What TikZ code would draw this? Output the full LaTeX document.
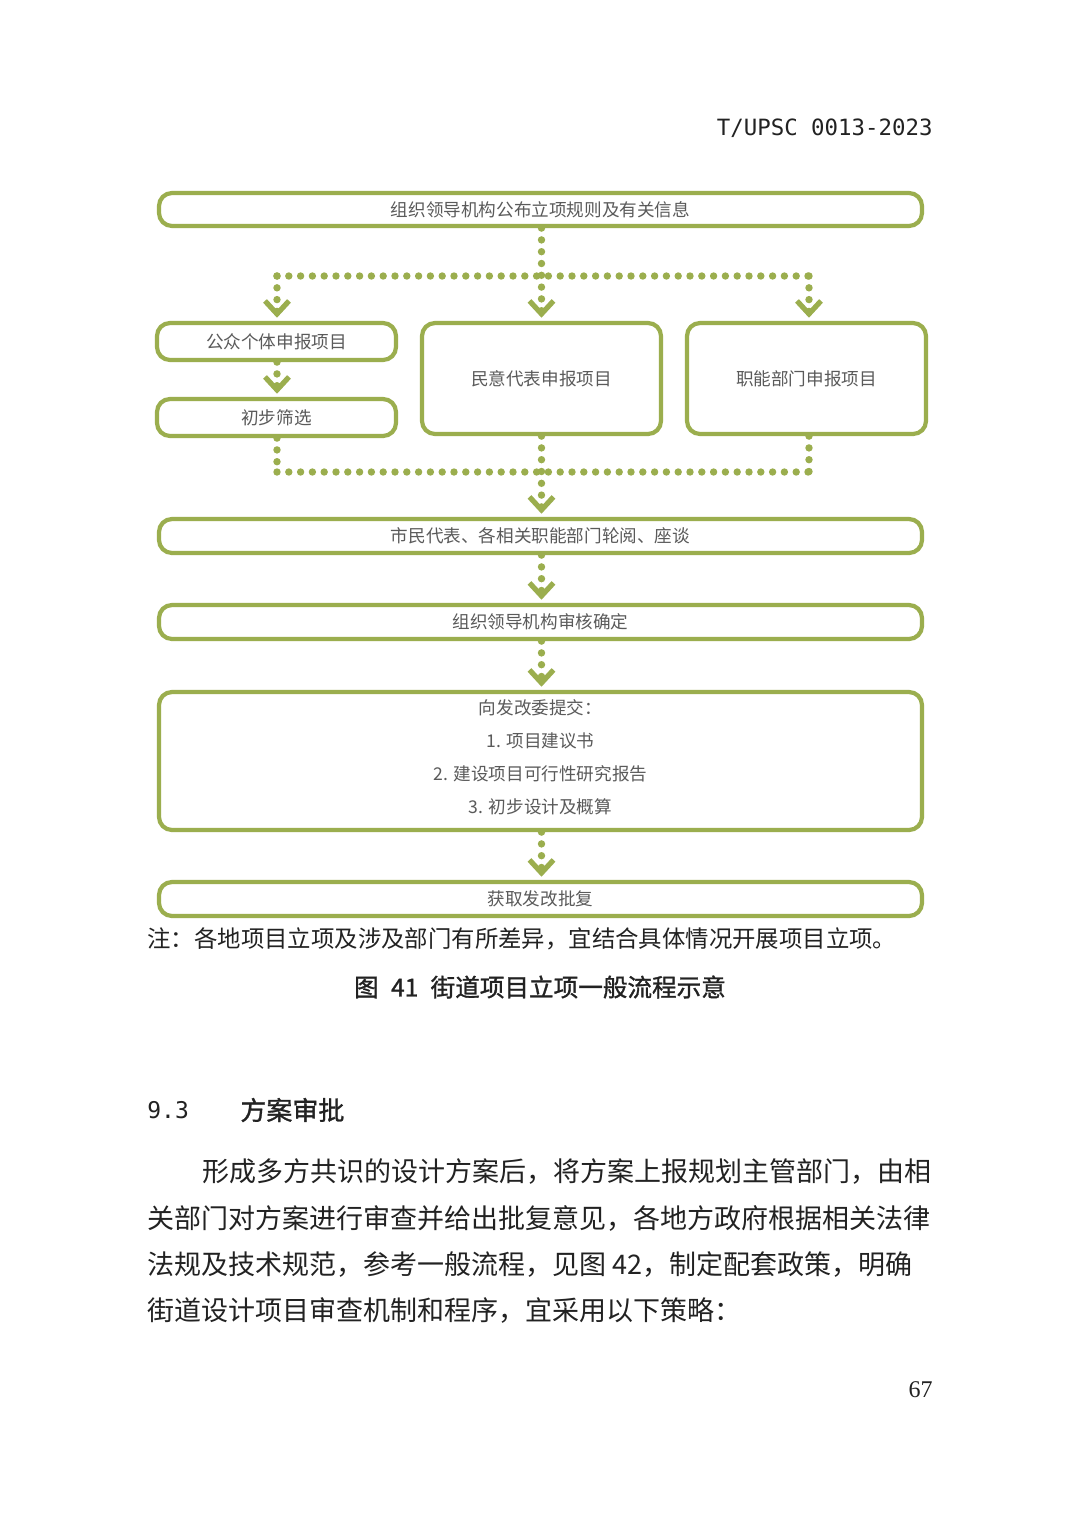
\documentclass[tikz,border=0pt]{standalone}
\usepackage{fontspec}
\setmainfont{Noto Sans CJK SC}
\newfontfamily\heifnt[FakeBold=1.2]{Noto Sans CJK SC}
\newfontfamily\monofnt{DejaVu Sans Mono}
\newfontfamily\serfnt{Liberation Serif}
\definecolor{leaf}{HTML}{9BAE4E}
\definecolor{boxtext}{HTML}{5A5A5A}
\definecolor{ink}{HTML}{222222}
\tikzset{
  box/.style={draw=leaf, line width=2.1pt, rounded corners=6.5pt, fill=white,
    text=boxtext, font=\fontsize{8.8}{10}\selectfont, inner sep=0pt, align=center},
  dots/.style={draw=leaf, line width=3.7pt, line cap=round, dash pattern=on 0pt off 5.9pt},
  chevline/.style={draw=leaf, line width=2.6pt, line cap=butt, line join=miter},
  pics/chev/.style={code={\draw[chevline] (-12,-20) -- (0,-7) -- (12,-20);}},
  bodytext/.style={text=ink, inner sep=0pt, anchor=west, font=\fontsize{13.5}{16}\selectfont}
}
\begin{document}
\begin{tikzpicture}[x=0.5pt,y=-0.5pt]
\useasboundingbox (0,0) rectangle (1080,1532);
\fill[white] (0,0) rectangle (1080,1532);

% header
\node[anchor=east, inner sep=0pt, text=ink, font=\monofnt\fontsize{11.2}{13}\selectfont] (hdr) at (933,128) {T/UPSC 0013-2023};

% boxes
\node[box, minimum width=381.5pt, minimum height=16.5pt] (b1) at (540.5,209.5) {组织领导机构公布立项规则及有关信息};
\node[box, minimum width=119.5pt, minimum height=18.5pt] (p1) at (276.5,341.5) {公众个体申报项目};
\node[box, minimum width=119.5pt, minimum height=18.5pt] (p2) at (276.5,417.5) {初步筛选};
\node[box, minimum width=119.5pt, minimum height=55.5pt] (m) at (541.5,378.5) {民意代表申报项目};
\node[box, minimum width=119.5pt, minimum height=55.5pt] (r) at (806.5,378.5) {职能部门申报项目};
\node[box, minimum width=381.5pt, minimum height=17pt] (b2) at (540.5,536) {市民代表、各相关职能部门轮阅、座谈};
\node[box, minimum width=381.5pt, minimum height=17pt] (b3) at (540.5,622) {组织领导机构审核确定};
\node[box, minimum width=381.5pt, minimum height=69pt] (b4) at (540.5,761) {};
\node[box, draw=none, fill=none] (b4a) at (540.5,708) {向发改委提交：};
\node[box, draw=none, fill=none] (b4b) at (540.5,741) {1. 项目建议书};
\node[box, draw=none, fill=none] (b4c) at (540.5,774) {2. 建设项目可行性研究报告};
\node[box, draw=none, fill=none] (b4d) at (540.5,807) {3. 初步设计及概算};
\node[box, minimum width=381.5pt, minimum height=17pt] (b5) at (540.5,899) {获取发改批复};

% junction coordinates
\coordinate (jtl) at (277,276);
\coordinate (jtr) at (809,276);
\coordinate (jbl) at (277,472);
\coordinate (jbr) at (809,472);

% top distribution
\draw[dots] (b1.south -| m.north) -- ([yshift=4.5pt]m.north);
\draw[dots] (jtl) -- (jtr);
\draw[dots] (jtl) -- ([yshift=4.5pt]p1.north -| jtl);
\draw[dots] (jtr) -- ([yshift=4.5pt]r.north -| jtr);
\pic at (m.north) {chev};
\pic at (p1.north -| jtl) {chev};
\pic at (r.north -| jtr) {chev};

% p1 -> p2
\draw[dots] (p1.south -| jtl) -- ([yshift=4.5pt]p2.north -| jtl);
\pic at (p2.north -| jtl) {chev};

% collection
\draw[dots] (p2.south -| jbl) -- (jbl);
\draw[dots] (r.south -| jbr) -- (jbr);
\draw[dots] (jbl) -- (jbr);
\draw[dots] (m.south) -- ([yshift=4.5pt]b2.north -| m.south);
\pic at (b2.north -| m.south) {chev};

% chain
\draw[dots] (b2.south -| m.south) -- ([yshift=4.5pt]b3.north -| m.south);
\pic at (b3.north -| m.south) {chev};
\draw[dots] (b3.south -| m.south) -- ([yshift=4.5pt]b4.north -| m.south);
\pic at (b4.north -| m.south) {chev};
\draw[dots] (b4.south -| m.south) -- ([yshift=4.5pt]b5.north -| m.south);
\pic at (b5.north -| m.south) {chev};

% note and caption
\node[anchor=west, inner sep=0pt, text=ink, font=\fontsize{11.7}{13}\selectfont] (note) at (147,939) {注：各地项目立项及涉及部门有所差异，宜结合具体情况开展项目立项。};
\node[inner sep=0pt, text=ink, font=\heifnt\fontsize{12.3}{14}\selectfont] (cap) at (540,987) {图\enspace 41\enspace 街道项目立项一般流程示意};

% section
\node[anchor=west, inner sep=0pt, text=ink, font=\monofnt\fontsize{11.5}{13}\selectfont] (secno) at (147,1110) {9.3};
\node[anchor=west, inner sep=0pt, text=ink, font=\heifnt\fontsize{13}{15}\selectfont] (sectitle) at (240,1110) {方案审批};

\node[bodytext] (l1) at (202,1172) {形成多方共识的设计方案后，将方案上报规划主管部门，由相};
\node[bodytext] (l2) at (147,1218) {关部门对方案进行审查并给出批复意见，各地方政府根据相关法律};
\node[bodytext] (l3) at (147,1264) {法规及技术规范，参考一般流程，见图 42，制定配套政策，明确};
\node[bodytext] (l4) at (147,1310) {街道设计项目审查机制和程序，宜采用以下策略：};

\node[anchor=east, inner sep=0pt, text=ink, font=\serfnt\fontsize{12}{14}\selectfont] (pg) at (933,1390) {67};
\end{tikzpicture}
\end{document}
